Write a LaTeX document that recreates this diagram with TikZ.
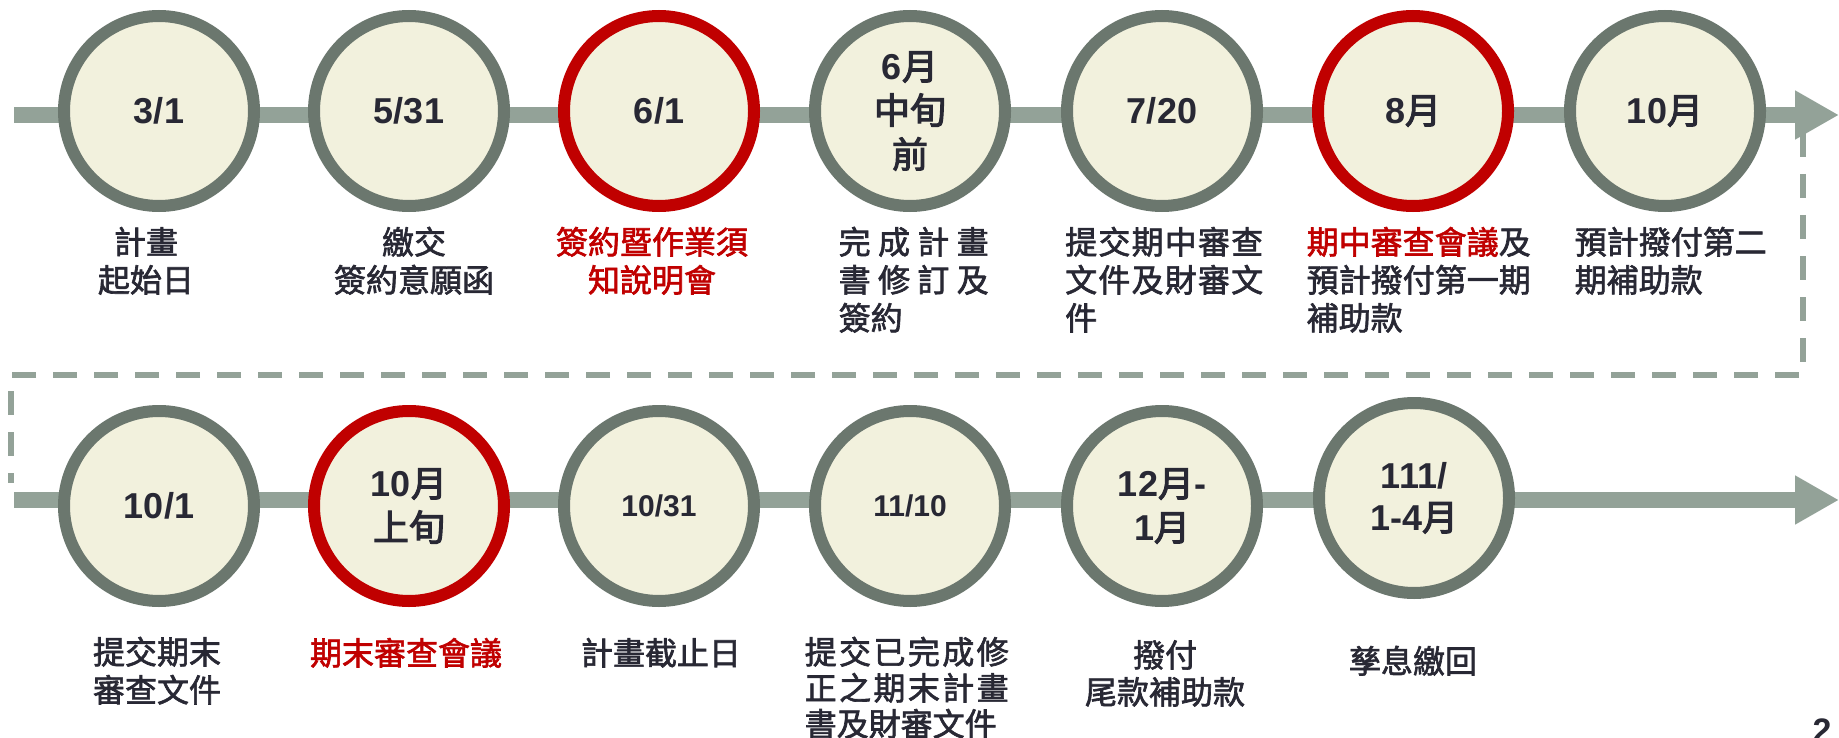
\documentclass[tikz,border=0pt]{standalone}
\usepackage{fontspec}
\setmainfont{Liberation Sans}
\newfontfamily\cjk{Noto Sans CJK TC}[FakeBold=2]
\newfontfamily\cjkc{Noto Sans CJK TC}[FakeBold=3]
\usetikzlibrary{arrows.meta,backgrounds}
\definecolor{ringc}{RGB}{107,119,110}
\definecolor{linec}{RGB}{147,162,152}
\definecolor{fillc}{RGB}{242,241,221}
\definecolor{redc}{RGB}{192,0,0}
\definecolor{txtc}{RGB}{40,40,52}
\newcommand\clines[2][38pt]{\vtop{\baselineskip=#1\lineskiplimit=-100pt\lineskip=0pt\halign{\hfil##\hfil\cr#2\crcr}}}
\newcommand\llines[2][38pt]{\vtop{\baselineskip=#1\lineskiplimit=-100pt\lineskip=0pt\halign{##\hfil\cr#2\crcr}}}
\newcommand\jl[2]{\makebox[#1][s]{#2}}
\newcommand\cm[1]{{\cjkc\mdseries #1}}
\newcommand\yue{\cm{月}}
\tikzset{
  circ/.style={circle, minimum size=190pt, inner sep=0pt, line width=12pt, draw=ringc, fill=fillc, text=txtc, font=\fontsize{36}{44}\selectfont\bfseries},
  redcirc/.style={circ, draw=redc},
  smallnum/.style={font=\fontsize{30}{36}\selectfont\bfseries},
  lab/.style={inner sep=0pt, text=txtc, font=\cjk\fontsize{32}{38}\selectfont},
  tl/.style={draw=linec, line width=16pt},
  tlarrow/.style={tl, -{Triangle[length=44pt,width=46pt]}},
  dashc/.style={draw=linec, line width=6pt, dash pattern=on 24pt off 17pt}
}
\begin{document}
\begin{tikzpicture}[x=1pt,y=-1pt]
\useasboundingbox (0,0) rectangle (1839,738);
% top row circles
\node[circ] (c1) at (159,111) {3/1};
\node[circ] (c2) at (409,111) {5/31};
\node[redcirc] (c3) at (659,111) {6/1};
\node[circ] (c4) at (910,111) {\clines[44pt]{6\yue\cr\cm{中旬}\cr\cm{前}}};
\node[circ] (c5) at (1162,111) {7/20};
\node[redcirc] (c6) at (1413,111) {8\yue};
\node[circ] (c7) at (1665,111) {10\yue};
% bottom row circles
\node[circ] (d1) at (159,506) {10/1};
\node[redcirc] (d2) at (409,506) {\clines[44pt]{10\yue\cr\cm{上旬}}};
\node[circ, smallnum] (d3) at (659,506) {10/31};
\node[circ, smallnum] (d4) at (910,506) {11/10};
\node[circ] (d5) at (1162,506) {\clines[44pt]{12\yue-\cr 1\yue}};
\node[circ] (d6) at (1414,498) {\clines[42pt]{111/\cr 1-4\yue}};
% timeline ends
\coordinate (ts) at (14,115);
\coordinate (te) at (1839,115);
\coordinate (bs) at (14,500);
\coordinate (be) at (1839,500);
\coordinate (ka) at (1803,133);
\coordinate (kb) at (11,483);
\begin{pgfonlayer}{background}
\draw[tlarrow] (ts) -- (te);
\draw[tlarrow] (bs) -- (be);
\draw[dashc] (ka) -- ++(0,242) -| (kb);
\end{pgfonlayer}
% top labels
\node[lab, anchor=base] (t1) at (146,254) {\clines{計畫\cr 起始日}};
\node[lab, anchor=base] (t2) at (414,254) {\clines{繳交\cr 簽約意願函}};
\node[lab, text=redc, anchor=base] (t3) at (652,254) {\clines{簽約暨作業須\cr 知說明會}};
\node[lab, anchor=base west] (t4) at (838.5,254) {\llines{\jl{150pt}{完\hfill 成\hfill 計\hfill 畫}\cr \jl{150pt}{書\hfill 修\hfill 訂\hfill 及}\cr 簽約}};
\node[lab, anchor=base west] (t5) at (1065,254) {\llines{\jl{198pt}{提\hfill 交\hfill 期\hfill 中\hfill 審\hfill 查}\cr \jl{198pt}{文\hfill 件\hfill 及\hfill 財\hfill 審\hfill 文}\cr 件}};
\node[lab, anchor=base west] (t6) at (1306.5,254) {\llines{{\color{redc}期中審查會議}及\cr 預計撥付第一期\cr 補助款}};
\node[lab, anchor=base west] (t7) at (1574.5,254) {\llines{預計撥付第二\cr 期補助款}};
% bottom labels
\node[lab, anchor=base] (b1) at (157,664) {\clines{提交期末\cr 審查文件}};
\node[lab, text=redc, anchor=base] (b2) at (406,665) {期末審查會議};
\node[lab, anchor=base] (b3) at (661,665) {計畫截止日};
\node[lab, anchor=base west] (b4) at (804.5,664) {\llines[36pt]{\jl{204pt}{提\hfill 交\hfill 已\hfill 完\hfill 成\hfill 修}\cr \jl{204pt}{正\hfill 之\hfill 期\hfill 末\hfill 計\hfill 畫}\cr 書及財審文件}};
\node[lab, anchor=base] (b5) at (1165,667) {\clines[37pt]{撥付\cr 尾款補助款}};
\node[lab, anchor=base] (b6) at (1413,673) {孳息繳回};
% page number
\node[inner sep=0pt, anchor=base, text=txtc, font=\fontsize{34}{34}\selectfont\bfseries] (pg) at (1822,742) {2};
\end{tikzpicture}
\end{document}
